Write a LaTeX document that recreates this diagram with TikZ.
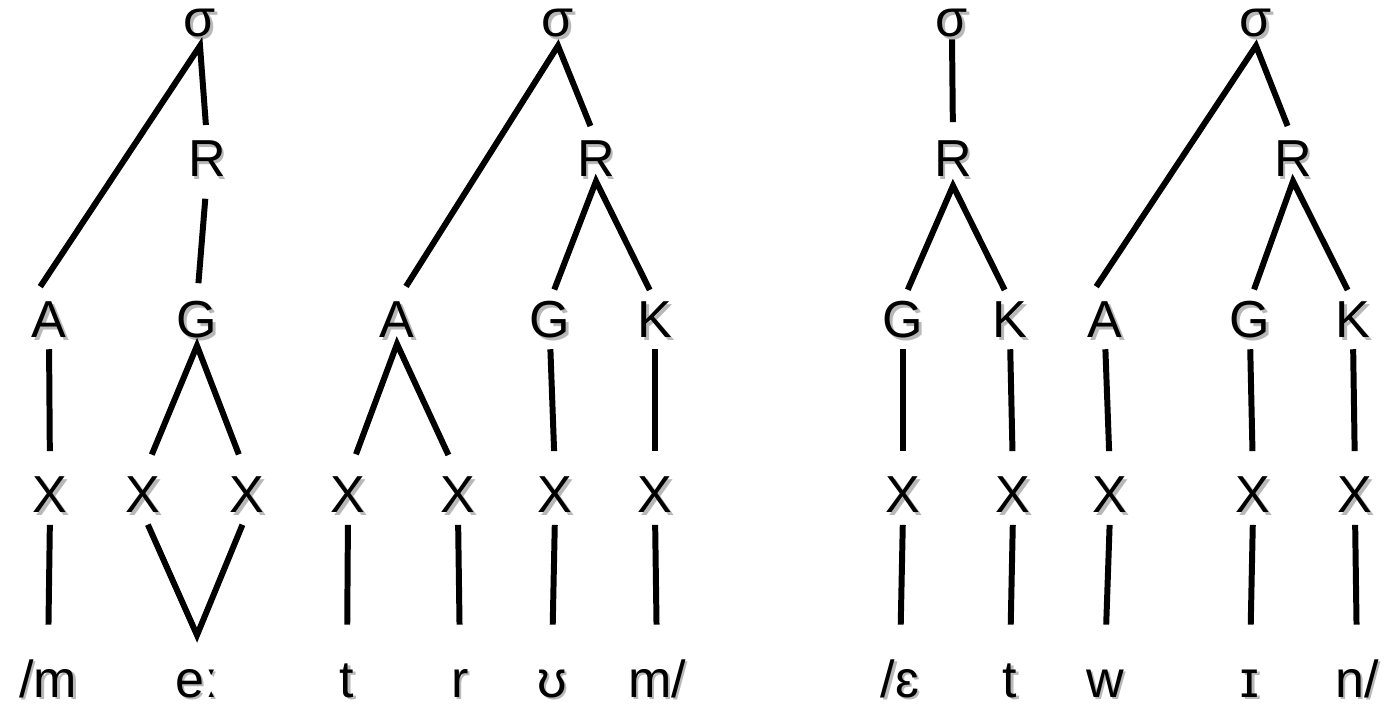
\documentclass[tikz,border=0pt]{standalone}
\usepackage{fontspec}
\setmainfont{Liberation Sans}
\newcommand{\shd}[1]{\makebox[0pt][l]{\kern0.7pt\raisebox{-0.7pt}{\textcolor{black!28}{#1}}}#1}

\begin{document}
\begin{tikzpicture}[x=0.01cm,y=-0.01cm,
    link/.style={draw,line width=1.7pt,line join=miter},
    linkhi/.style={link,shorten <=4.8pt,shorten >=4.2pt},
    linkmid/.style={link,shorten <=3.4pt,shorten >=3.4pt},
    linklo/.style={link,shorten <=6.5pt,shorten >=6.5pt}]
  \useasboundingbox (0,0) rectangle (1388,707);
			\begin{scope}[every node/.style={anchor=base,inner sep=0pt,text height=10.4pt,text depth=0pt,
                font=\fontsize{14.8}{17}\selectfont}]
    % syllable
    \node (s1) at (200,37) {\shd{σ}};
    \node (s2) at (558,37) {\shd{σ}};
    \node (s3) at (952,37) {\shd{σ}};
    \node (s4) at (1256,37) {\shd{σ}};
    % rhyme
    \node (r1) at (207,177) {\shd{R}};
    \node (r2) at (596,177) {\shd{R}};
    \node (r3) at (953,177) {\shd{R}};
    \node (r4) at (1293,177) {\shd{R}};
    % onset, nucleus, coda
    \node (a1) at (49,338) {\shd{A}};
    \node (g1) at (197,338) {\shd{G}};
    \node (a2) at (397,338) {\shd{A}};
    \node (g2) at (550,338) {\shd{G}};
    \node (k2) at (655,338) {\shd{K}};
    \node (g3) at (903,338) {\shd{G}};
    \node (k3) at (1010,338) {\shd{K}};
    \node (a4) at (1105,338) {\shd{A}};
    \node (g4) at (1250,338) {\shd{G}};
    \node (k4) at (1353,338) {\shd{K}};
    % skeleton
    \node (x1) at (50,513) {\shd{X}};
    \node (x2) at (143,513) {\shd{X}};
    \node (x3) at (247,513) {\shd{X}};
    \node (x4) at (348,513) {\shd{X}};
    \node (x5) at (458,513) {\shd{X}};
    \node (x6) at (555,513) {\shd{X}};
    \node (x7) at (655,513) {\shd{X}};
    \node (x8) at (903,513) {\shd{X}};
    \node (x9) at (1013,513) {\shd{X}};
    \node (x10) at (1110,513) {\shd{X}};
    \node (x11) at (1253,513) {\shd{X}};
    \node (x12) at (1355,513) {\shd{X}};
    % segments
    \node (p1) at (48,697) {\shd{/m}};
    \node (p2) at (197,697) {\shd{eː}};
    \node (p3) at (347,697) {\shd{t}};
    \node (p4) at (460,697) {\shd{r}};
    \node (p5) at (552,697) {\shd{ʊ}};
    \node (p6) at (657,697) {\shd{m/}};
    \node (p7) at (900,697) {\shd{/ɛ}};
    \node (p8) at (1010,697) {\shd{t}};
    \node (p9) at (1105,697) {\shd{w}};
    \node (p10) at (1250,697) {\shd{ɪ}};
    \node (p11) at (1357,697) {\shd{n/}};
			\end{scope}
			\begin{scope}[every edge/.style={draw,line width=1.7pt}]
    % sigma to onset and rhyme
    \draw[linkhi] (a1.north west) -- ([yshift=-2.3pt]s1.south) -- (r1.north);
    \draw[linkhi] (a2.north) -- ([yshift=-2.3pt]s2.south) -- (r2.north);
    \draw[linkhi] (a4.north west) -- ([yshift=-2.3pt]s4.south) -- (r4.north);
    \path[shorten <=0.5pt,shorten >=5pt] (s3.south) edge (r3.north);
    % rhyme to nucleus and coda
    \path[shorten <=6pt,shorten >=5pt] (r1.south) edge (g1.north);
    \draw[linkmid] (g2.north) -- ([yshift=-1pt]r2.south) -- (k2.north);
    \draw[linkmid] (g3.north) -- ([yshift=-2.3pt]r3.south) -- (k3.north);
    \draw[linkmid] (g4.north) -- ([yshift=-1pt]r4.south) -- (k4.north);
    % down to the skeleton
    \draw[linklo] (x2.north) -- ([yshift=-2pt]g1.south) -- (x3.north);
    \draw[linklo] (x4.north) -- ([yshift=-1.5pt]a2.south) -- (x5.north);
    \path[shorten <=3pt,shorten >=7pt]
      (a1.south) edge (x1.north)
      (g2.south) edge (x6.north)
      (k2.south) edge (x7.north)
      (g3.south) edge (x8.north)
      (k3.south) edge (x9.north)
      (a4.south) edge (x10.north)
      (g4.south) edge (x11.north)
      (k4.south) edge (x12.north);
    % skeleton to segments
    \draw[linkmid] (x2.south) -- ([yshift=7pt]p2.north) -- (x3.south);
    \path[shorten <=3.2pt,shorten >=10pt]
      (x1.south) edge (p1.north)
      (x4.south) edge (p3.north)
      (x5.south) edge (p4.north)
      (x6.south) edge (p5.north)
      (x7.south) edge (p6.north)
      (x8.south) edge (p7.north)
      (x9.south) edge (p8.north)
      (x10.south) edge (p9.north)
      (x11.south) edge (p10.north)
      (x12.south) edge (p11.north);
			\end{scope}
\end{tikzpicture}
\end{document}
